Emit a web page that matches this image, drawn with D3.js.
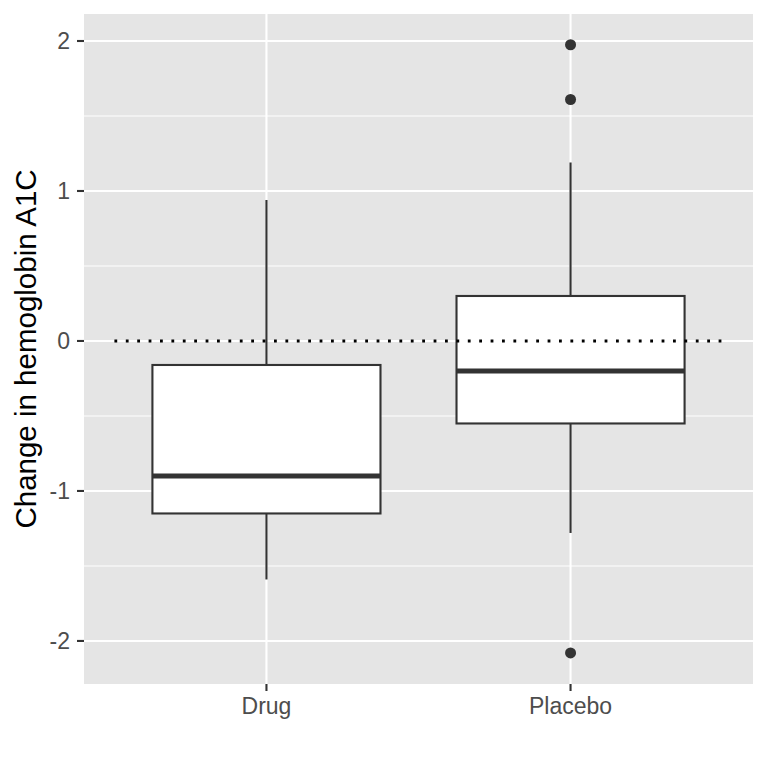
<!DOCTYPE html>
<html><head><meta charset="utf-8">
<script src="https://cdn.jsdelivr.net/npm/d3@7"></script>
<style>body{margin:0;background:#fff}</style>
</head><body>
<script>
const groups = ["Drug", "Placebo"];
const whiskerLow = [-1.59, -1.28];
const q1 = [-1.15, -0.55];
const median = [-0.90, -0.20];
const q3 = [-0.16, 0.30];
const whiskerHigh = [0.94, 1.19];
const outliers = [[], [1.975, 1.61, -2.08]];
const yTicks = [-2, -1, 0, 1, 2];
const yMinor = [-1.5, -0.5, 0.5, 1.5];
const yLabel = "Change in hemoglobin A1C";

const W = 768, H = 768;
const pl = 84, pr = 753, pt = 14, pb = 684;
const svg = d3.select("body").append("svg").attr("width", W).attr("height", H);

const x = d3.scaleLinear().domain([0.4, 2.6]).range([pl, pr]);
const y = d3.scaleLinear().domain([-2.287, 2.18]).range([pb, pt]);

svg.append("rect").attr("x", pl).attr("y", pt).attr("width", pr - pl).attr("height", pb - pt).attr("fill", "#e5e5e5");

svg.selectAll(".minor").data(yMinor).join("line")
  .attr("x1", pl).attr("x2", pr).attr("y1", d => y(d)).attr("y2", d => y(d))
  .attr("stroke", "#fff").attr("stroke-width", 1.1);
svg.selectAll(".major").data(yTicks).join("line")
  .attr("x1", pl).attr("x2", pr).attr("y1", d => y(d)).attr("y2", d => y(d))
  .attr("stroke", "#fff").attr("stroke-width", 2.1);
svg.selectAll(".vmajor").data(groups).join("line")
  .attr("x1", (d, i) => x(i + 1)).attr("x2", (d, i) => x(i + 1)).attr("y1", pt).attr("y2", pb)
  .attr("stroke", "#fff").attr("stroke-width", 2.1);

const bw = 0.75;
const g = svg.append("g");
groups.forEach((grp, i) => {
  const c = i + 1;
  g.append("line").attr("x1", x(c)).attr("x2", x(c)).attr("y1", y(q3[i])).attr("y2", y(whiskerHigh[i]))
    .attr("stroke", "#333").attr("stroke-width", 2.1);
  g.append("line").attr("x1", x(c)).attr("x2", x(c)).attr("y1", y(q1[i])).attr("y2", y(whiskerLow[i]))
    .attr("stroke", "#333").attr("stroke-width", 2.1);
  g.append("rect").attr("x", x(c - bw / 2)).attr("width", x(c + bw / 2) - x(c - bw / 2))
    .attr("y", y(q3[i])).attr("height", y(q1[i]) - y(q3[i]))
    .attr("fill", "#fff").attr("stroke", "#333").attr("stroke-width", 2.1);
  g.append("line").attr("x1", x(c - bw / 2)).attr("x2", x(c + bw / 2)).attr("y1", y(median[i])).attr("y2", y(median[i]))
    .attr("stroke", "#333").attr("stroke-width", 5);
  g.selectAll(null).data(outliers[i]).join("circle")
    .attr("cx", x(c)).attr("cy", d => y(d)).attr("r", 5.5).attr("fill", "#333");
});

// dotted reference (drawn on top of boxes)
svg.append("line").attr("x1", x(0.5)).attr("x2", x(2.5)).attr("y1", y(0)).attr("y2", y(0))
  .attr("stroke", "#000").attr("stroke-width", 2.8).attr("stroke-dasharray", "2.8 8.6");

// axes
const font = "Liberation Sans, Arial, Helvetica, sans-serif";
svg.selectAll(".yt").data(yTicks).join("line")
  .attr("x1", pl - 7).attr("x2", pl).attr("y1", d => y(d)).attr("y2", d => y(d))
  .attr("stroke", "#333").attr("stroke-width", 2.1);
svg.selectAll(".ytl").data(yTicks).join("text")
  .attr("x", pl - 14).attr("y", d => y(d)).attr("dy", "0.36em").attr("text-anchor", "end")
  .style("font-family", font).style("font-size", "23px").attr("fill", "#4d4d4d")
  .text(d => d);
svg.selectAll(".xt").data(groups).join("line")
  .attr("x1", (d, i) => x(i + 1)).attr("x2", (d, i) => x(i + 1)).attr("y1", pb).attr("y2", pb + 7)
  .attr("stroke", "#333").attr("stroke-width", 2.1);
svg.selectAll(".xtl").data(groups).join("text")
  .attr("x", (d, i) => x(i + 1)).attr("y", pb + 30).attr("text-anchor", "middle")
  .style("font-family", font).style("font-size", "23px").attr("fill", "#4d4d4d")
  .text(d => d);
svg.append("text").attr("transform", `translate(36,${(pt + pb) / 2}) rotate(-90)`)
  .attr("text-anchor", "middle").style("font-family", font)
  .style("font-size", "29.5px").attr("fill", "#000").text(yLabel);
</script>
</body></html>
